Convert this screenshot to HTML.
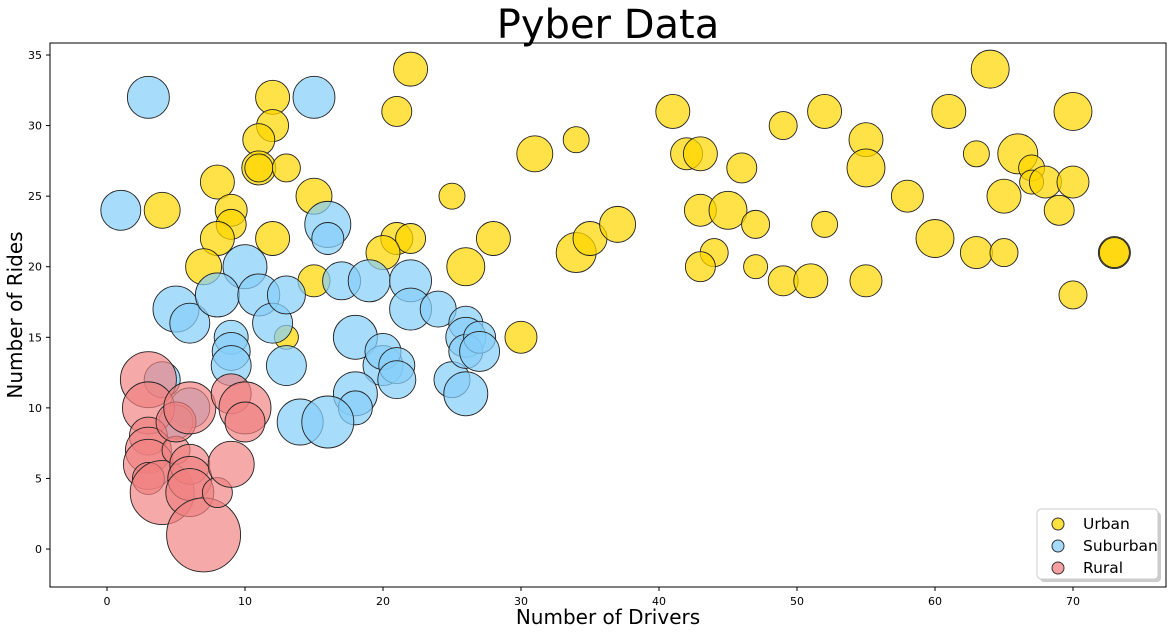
<!DOCTYPE html>
<html><head><meta charset="utf-8">
<style>
html,body{margin:0;padding:0;background:#fff;}
svg text{font-family:"DejaVu Sans","Liberation Sans",sans-serif;}
</style></head>
<body>
<svg id="chart" width="1176" height="634" xmlns="http://www.w3.org/2000/svg">
<text x="608" y="38" font-size="40" text-anchor="middle">Pyber Data</text>
<text x="608" y="624" font-size="20" text-anchor="middle">Number of Drivers</text>
<text x="0" y="0" font-size="20" text-anchor="middle" transform="translate(22,315) rotate(-90)">Number of Rides</text>
<g id="ticks"></g>
<g id="marks"></g>
<rect x="50" y="43" width="1116" height="544" fill="none" stroke="#000" stroke-width="1"/>
<g id="legend">
<rect x="1040" y="512" width="121" height="70" rx="4" fill="#999" opacity="0.5"/>
<rect x="1037" y="509" width="121" height="70" rx="4" fill="#fff" stroke="#ccc"/>
<circle cx="1058" cy="524" r="6" fill="rgba(255,215,0,0.75)" stroke="#333"/>
<text x="1083" y="529" font-size="15.5">Urban</text>
<circle cx="1058" cy="546" r="6" fill="rgba(135,206,250,0.75)" stroke="#333"/>
<text x="1083" y="551" font-size="15.5">Suburban</text>
<circle cx="1058" cy="568" r="6" fill="rgba(240,128,128,0.75)" stroke="#333"/>
<text x="1083" y="573" font-size="15.5">Rural</text>
</g>
</svg>
<script>
const xTicks=[0,10,20,30,40,50,60,70];
const yTicks=[0,5,10,15,20,25,30,35];
const urbanDrivers=[22,12,12,21,11,11,11,13,8,15,9,4,9,8,12,21,22,20,7,15,13,25,26,28,30,31,34,34,35,37,41,42,43,43,44,43,45,46,47,47,49,49,51,52,52,55,55,55,58,60,61,63,63,64,65,65,66,67,67,68,69,70,70,70,73,73];
const urbanRides=[34,32,30,31,29,27,27,27,26,25,24,24,23,22,22,22,22,21,20,19,15,25,20,22,15,28,29,21,22,23,31,28,28,24,21,20,24,27,23,20,30,19,19,31,23,29,27,19,25,22,31,28,21,34,25,21,28,27,26,26,24,31,26,18,21,21];
const urbanSize=[17,17,16,15,16,17,14,14,17,18,16,18,15,17,17,16,15,17,18,16,12,13,19,17,16,18,13,20,17,18,17,16,17,16,14,15,19,15,14,12,14,15,17,17,13,17,19,16,16,19,17,13,16,19,17,14,20,13,12,16,15,19,16,14,16,15];
const subDrivers=[1,3,15,16,16,10,5,6,8,11,12,13,9,9,9,13,17,19,22,22,24,18,20,20,21,21,18,18,14,16,25,26,26,26,27,27,26,4,6,5];
const subRides=[24,32,32,23,22,20,17,16,18,18,16,18,15,14,13,13,19,19,19,17,17,15,13,14,13,12,11,10,9,9,12,16,15,14,15,14,11,12,10,9];
const subSize=[20,21,21,23,16,22,23,20,22,21,20,19,17,19,20,20,19,21,21,21,18,22,20,18,18,19,22,17,23,26,18,17,20,17,16,20,22,18,20,17];
const ruralDrivers=[3,3,3,3,3,3,4,5,5,6,6,6,6,7,8,9,10,10,9];
const ruralRides=[12,10,8,7,6,5,4,7,9,10,6,5,4,1,4,11,10,9,6];
const ruralSize=[28,26,19,23,25,16,32,14,20,26,20,22,24,37,15,20,26,20,23];

const X0=50,X1=1166,XMIN=-4.13,XMAX=76.74;
const Y0=587,Y1=43,YMIN=-2.69,YMAX=35.85;
function xs(v){return X0+(v-XMIN)/(XMAX-XMIN)*(X1-X0);}
function ys(v){return Y0-(v-YMIN)/(YMAX-YMIN)*(Y0-Y1);}
const NS="http://www.w3.org/2000/svg";
const tg=document.getElementById('ticks');
xTicks.forEach(t=>{
  const l=document.createElementNS(NS,'line');
  l.setAttribute('x1',xs(t));l.setAttribute('x2',xs(t));l.setAttribute('y1',587);l.setAttribute('y2',591);l.setAttribute('stroke','#000');
  
  
  tg.appendChild(l);
  const tx=document.createElementNS(NS,'text');
  tx.setAttribute('x',xs(t));tx.setAttribute('y',605);tx.setAttribute('font-size','11');tx.setAttribute('text-anchor','middle');
  tx.textContent=t;
  
  
  tg.appendChild(tx);
});
yTicks.forEach(t=>{
  const l=document.createElementNS(NS,'line');
  l.setAttribute('x1',46);l.setAttribute('x2',50);l.setAttribute('y1',ys(t));l.setAttribute('y2',ys(t));l.setAttribute('stroke','#000');
  
  
  tg.appendChild(l);
  const tx=document.createElementNS(NS,'text');
  tx.setAttribute('x',42);tx.setAttribute('y',ys(t)+4);tx.setAttribute('font-size','11');tx.setAttribute('text-anchor','end');
  tx.textContent=t;
  
  
  tg.appendChild(tx);
});
const mg=document.getElementById('marks');
function series(dx,dy,ds,fill,name){
  dx.forEach((d,i)=>{
    const c=document.createElementNS(NS,'circle');
    c.setAttribute('cx',xs(d));c.setAttribute('cy',ys(dy[i]));c.setAttribute('r',ds[i]);
    c.setAttribute('fill',fill);c.setAttribute('stroke','#222');c.setAttribute('stroke-width','0.9');
    
    
    mg.appendChild(c);
  });
}
series(urbanDrivers,urbanRides,urbanSize,'rgba(255,215,0,0.72)','urban-bubble');
series(subDrivers,subRides,subSize,'rgba(135,206,250,0.72)','suburban-bubble');
series(ruralDrivers,ruralRides,ruralSize,'rgba(240,128,128,0.68)','rural-bubble');
</script>
</body></html>
